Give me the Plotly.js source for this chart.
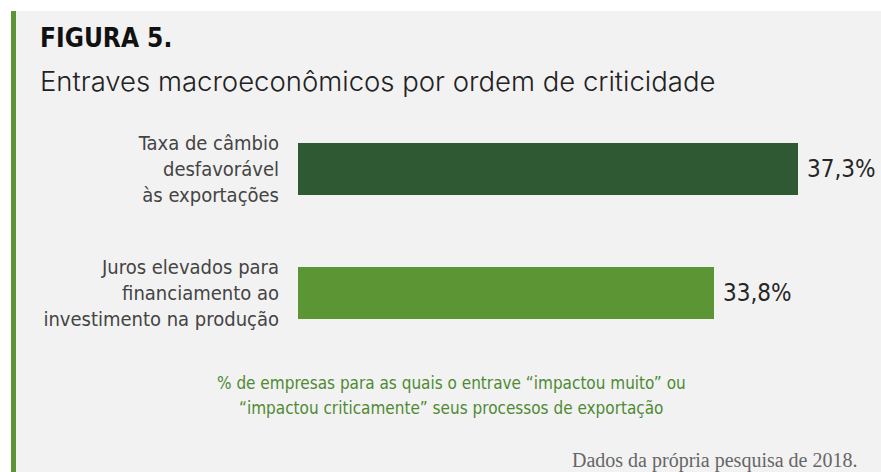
<!DOCTYPE html>
<html>
<head>
<meta charset="utf-8">
<script src="https://cdn.plot.ly/plotly-3.0.1.min.js"></script>
<style>
  html, body { margin: 0; padding: 0; background: #ffffff; width: 881px; height: 472px; overflow: hidden; }
  #chart { position: absolute; left: 11px; top: 11px; width: 870px; height: 461px; }
</style>
</head>
<body>
<div id="chart"></div>
<script>
// ---- data ----
const categories = [
  "Taxa de câmbio<br>desfavorável<br>às exportações",
  "Juros elevados para<br>financiamento ao<br>investimento na produção"
];
const values = [37.3, 33.8];
const valueLabels = ["37,3%", "33,8%"];
const barColors = ["#2f5932", "#5c9533"];

const titleText = "FIGURA 5.";
const subtitleText = "Entraves macroeconômicos por ordem de criticidade";
const noteLines = [
  "% de empresas para as quais o entrave “impactou muito” ou",
  "“impactou criticamente” seus processos de exportação"
];
const sourceText = "Dados da própria pesquisa de 2018.";

// ---- layout geometry (page pixels) ----
const W = 870, H = 461, OX = 11, OY = 11;
const M = { l: 287, r: 0, t: 96, b: 117 };
const PW = W - M.l - M.r, PH = H - M.t - M.b;
const px = x => (x - OX - M.l) / PW;
const py = y => 1 - (y - OY - M.t) / PH;

const condensed = "Liberation Sans Narrow, DejaVu Sans Condensed, Arial Narrow, sans-serif";

const trace = {
  type: "bar",
  orientation: "h",
  y: categories,
  x: values,
  width: 0.427,
  marker: { color: barColors },
  hoverinfo: "none"
};

const annotations = values.map((v, i) => ({
  xref: "x", yref: "y", x: v, y: categories[i],
  xanchor: "left", yanchor: "middle", xshift: 7,
  text: valueLabels[i], showarrow: false,
  font: { family: condensed, size: 24, color: "#262626" }
}));

annotations.push(
  { xref: "paper", yref: "paper", x: px(38), y: py(38), xanchor: "left", yanchor: "middle",
    text: "<b>" + titleText + "</b>", showarrow: false,
    font: { family: condensed, size: 26, color: "#111111" } },
  { xref: "paper", yref: "paper", x: px(38), y: py(81), xanchor: "left", yanchor: "middle",
    text: subtitleText, showarrow: false,
    font: { family: "Inter, Roboto, sans-serif", size: 27.5, color: "#222222", weight: 300 } },
  { xref: "paper", yref: "paper", x: px(860), y: py(460), xanchor: "right", yanchor: "middle",
    text: sourceText, showarrow: false,
    font: { family: "Liberation Serif, serif", size: 20, color: "#666666" } }
);

noteLines.forEach((t, i) => {
  annotations.push({
    xref: "paper", yref: "paper", x: px(451), y: py(383 + i * 25), xanchor: "center", yanchor: "middle",
    text: t, showarrow: false,
    font: { family: condensed, size: 17, color: "#4f8a33" }
  });
});

const layout = {
  width: W, height: H,
  margin: M,
  paper_bgcolor: "#f2f2f2",
  plot_bgcolor: "rgba(0,0,0,0)",
  showlegend: false,
  bargap: 0,
  xaxis: {
    range: [16.45, 16.45 + PW / 24],
    visible: false, fixedrange: true
  },
  yaxis: {
    type: "category",
    autorange: "reversed",
    showgrid: false, zeroline: false, showline: false,
    ticks: "", ticklabelstandoff: 18,
    tickfont: { family: condensed, size: 20, color: "#444444" },
    fixedrange: true
  },
  shapes: [{
    type: "rect", xref: "paper", yref: "paper",
    x0: px(11), x1: px(16), y0: py(11), y1: py(472),
    fillcolor: "#5c9533", line: { width: 0 }, layer: "above"
  }],
  annotations: annotations
};

Plotly.newPlot("chart", [trace], layout, { displayModeBar: false, staticPlot: true });
</script>
</body>
</html>
